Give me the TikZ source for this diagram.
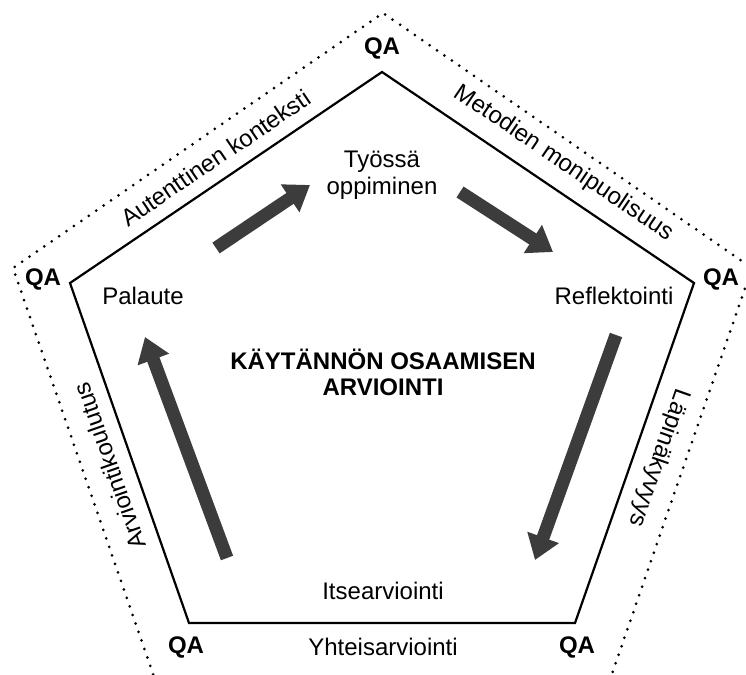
\documentclass[tikz,border=0pt]{standalone}
\usepackage{fontspec}
\setmainfont{Liberation Sans}
\usetikzlibrary{arrows.meta}
\definecolor{arrowgray}{HTML}{3C3C3C}
\begin{document}
\begin{tikzpicture}[x=1pt,y=-1pt,
  lbl/.style={font=\fontsize{24}{27}\selectfont, inner sep=0pt, align=center},
  qa/.style={font=\fontsize{24}{27}\selectfont\bfseries, inner sep=0pt},
  title/.style={font=\fontsize{24}{26}\selectfont\bfseries, inner sep=0pt, align=center},
  bigarrow/.style={draw=arrowgray, line width=13pt, -{Triangle[length=24pt,width=32pt]}},
  pentedge/.style={line width=2.2pt, line join=miter},
  dots/.style={line width=3pt, line cap=round, dash pattern=on 0pt off 9pt}]
\useasboundingbox (0,0) rectangle (746,674);
\fill[white] (0,0) rectangle (746,674);
% inner pentagon
\coordinate (T) at (382,72);
\coordinate (L) at (70,283);
\coordinate (R) at (694,283);
\coordinate (BL) at (189,623);
\coordinate (BR) at (575,623);
\draw[pentedge] (T) -- (R) -- (BR) -- (BL) -- (L) -- cycle;
% outer dotted pentagon
\coordinate (OT) at (383,13);
\coordinate (OL) at (13,268);
\coordinate (OR) at (752,268);
\coordinate (OBL) at (162,700);
\coordinate (OBR) at (603,700);
\begin{scope}
\clip (0,0) rectangle (746,674);
\draw[dots] (OBL) -- (OL) -- (OT) -- (OR) -- (OBR);
\end{scope}
% labels
\node[lbl] (work) at (382,175) {Työssä\\oppiminen};
\node[lbl] (pal) at (143,296) {Palaute};
\node[lbl] (ref) at (614,296) {Reflektointi};
\node[title] (main) at (383,372) {KÄYTÄNNÖN OSAAMISEN\\ARVIOINTI};
\node[lbl] (its) at (383,591) {Itsearviointi};
\node[lbl] (yht) at (383,647) {Yhteisarviointi};
\node[qa] (qaT) at (382,48) {QA};
\node[qa] (qaL) at (43,279) {QA};
\node[qa] (qaR) at (721,279) {QA};
\node[qa] (qaBL) at (186,647) {QA};
\node[qa] (qaBR) at (577,647) {QA};
\node[lbl, rotate=34.1] (aut) at (215.5,158) {Autenttinen konteksti};
\node[lbl, rotate=-34.1] (met) at (563.5,163.5) {Metodien monipuolisuus};
\node[lbl, rotate=109.3] (arv) at (109.5,466) {Arviointikoulutus};
\node[lbl, rotate=-109.3] (lap) at (659,458) {Läpinäkyvyys};
% arrows
\coordinate (a1s) at (216,248);
\coordinate (a1e) at (310,185);
\coordinate (a2s) at (460,192);
\coordinate (a2e) at (553,252);
\coordinate (a3s) at (616,335);
\coordinate (a3e) at (535,560);
\coordinate (a4s) at (227,558);
\coordinate (a4e) at (145,337);
\draw[bigarrow] (a1s) -- (a1e);
\draw[bigarrow] (a2s) -- (a2e);
\draw[bigarrow] (a3s) -- (a3e);
\draw[bigarrow] (a4s) -- (a4e);
\end{tikzpicture}
\end{document}
